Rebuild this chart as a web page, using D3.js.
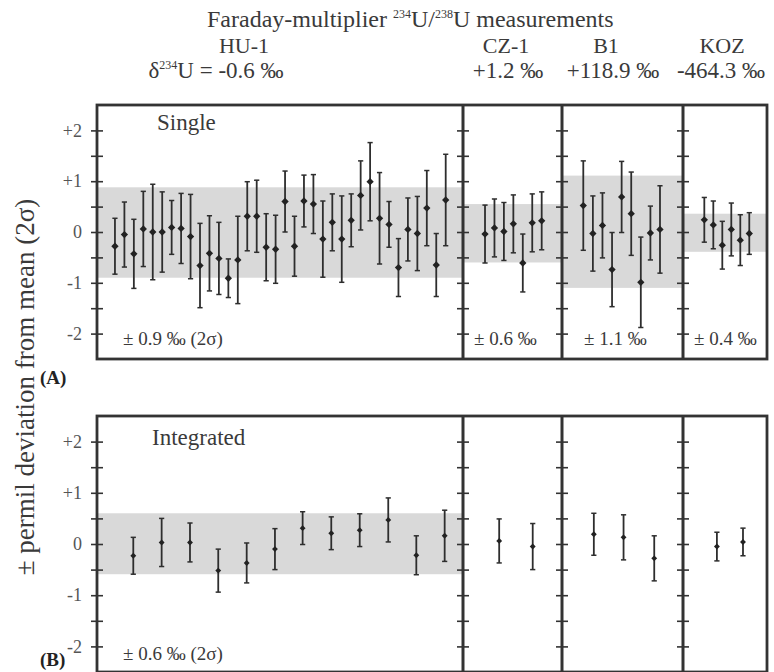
<!DOCTYPE html>
<html>
<head>
<meta charset="utf-8">
<script src="https://cdn.jsdelivr.net/npm/d3@7"></script>
<style>
  body { margin: 0; background: #fff; }
  text { font-family: "Liberation Serif", "Times New Roman", serif; fill: #3a3a3a; }
</style>
</head>
<body>
<div id="viz"></div>
<script>
// samples and their delta values
var samples = ["HU-1", "CZ-1", "B1", "KOZ"];
var deltas = ["-0.6 ‰", "+1.2 ‰", "+118.9 ‰", "-464.3 ‰"];

// (A) single measurements, deviation from mean and 2 sigma error
var singleHU1 = [-0.28,-0.05,-0.43,0.06,0,0,0.09,0.07,-0.09,-0.66,-0.42,-0.52,-0.91,-0.55,0.31,0.31,-0.3,-0.34,
                 0.6,-0.28,0.61,0.55,-0.14,0.19,-0.14,0.23,0.72,0.99,0.27,0.15,-0.7,0.05,-0.03,0.47,-0.65,0.63];
var singleHU1Err = [0.55,0.64,0.68,0.74,0.94,0.79,0.53,0.69,0.83,0.83,0.74,0.71,0.38,0.86,0.68,0.71,0.66,0.67,
                    0.6,0.59,0.51,0.58,0.75,0.56,0.85,0.52,0.68,0.77,0.9,0.45,0.57,0.62,0.73,0.74,0.62,0.9];
var singleCZ1 = [-0.04,0.08,0.01,0.16,-0.61,0.18,0.22];
var singleCZ1Err = [0.57,0.57,0.57,0.57,0.57,0.57,0.57];
var singleB1 = [0.52,-0.03,0.13,-0.74,0.69,0.36,-0.99,-0.02,0.05];
var singleB1Err = [0.88,0.74,0.64,0.73,0.7,0.82,0.89,0.53,0.86];
var singleKOZ = [0.24,0.14,-0.26,0.05,-0.16,-0.03];
var singleKOZErr = [0.44,0.47,0.47,0.52,0.5,0.41];

// (B) integrated measurements, position given in single-measurement index
var intHU1Pos = [1.94,4.94,7.94,10.93,13.94,16.93,19.86,22.89,25.9,28.92,31.89,34.89];
var intHU1 = [-0.23,0.03,0.03,-0.52,-0.37,-0.1,0.31,0.21,0.27,0.47,-0.22,0.16];
var intHU1Err = [0.36,0.47,0.38,0.42,0.39,0.4,0.32,0.32,0.32,0.43,0.38,0.5];
var intCZ1Pos = [1.5,5.05];
var intCZ1 = [0.06,-0.05];
var intCZ1Err = [0.43,0.45];
var intB1Pos = [1.1,4.2,7.4];
var intB1 = [0.19,0.13,-0.28];
var intB1Err = [0.41,0.44,0.44];
var intKOZPos = [1.4,4.3];
var intKOZ = [-0.05,0.04];
var intKOZErr = [0.28,0.27];

// reproducibility bands (lower, upper) and their labels
var singleBands = [[-0.9,0.88],[-0.6,0.55],[-1.1,1.11],[-0.39,0.36]];
var singleBandLabels = ["± 0.9 ‰ (2σ)", "± 0.6 ‰", "± 1.1 ‰", "± 0.4 ‰"];
var intBands = [[-0.59,0.6], null, null, null];
var intBandLabels = ["± 0.6 ‰ (2σ)", "", "", ""];

var yTicks = [-2,-1.5,-1,-0.5,0,0.5,1,1.5,2];

var width = 774, height = 672;

// panel layout: pixel extent and padding in index units
var layout = [
  {x0: 97, x1: 463, padL: 1.9, padR: 1.83, n: 36, nameX: 244, deltaX: 216, bandLabelX: 123},
  {x0: 463, x1: 562, padL: 2.33, padR: 2.15, n: 7, nameX: 506, deltaX: 508, bandLabelX: 474},
  {x0: 562, x1: 683, padL: 2.22, padR: 2.4, n: 9, nameX: 606, deltaX: 613, bandLabelX: 584},
  {x0: 683, x1: 767, padL: 2.37, padR: 1.97, n: 6, nameX: 722, deltaX: 721, bandLabelX: 694}
];

var singles = [
  [singleHU1, singleHU1Err], [singleCZ1, singleCZ1Err], [singleB1, singleB1Err], [singleKOZ, singleKOZErr]
];
var integrated = [
  [intHU1Pos, intHU1, intHU1Err], [intCZ1Pos, intCZ1, intCZ1Err], [intB1Pos, intB1, intB1Err], [intKOZPos, intKOZ, intKOZErr]
];

var svg = d3.select("#viz").append("svg")
  .attr("width", width).attr("height", height);

var xScales = layout.map(p => d3.scaleLinear()
  .domain([-p.padL, p.n - 1 + p.padR]).range([p.x0, p.x1]));

var yA = d3.scaleLinear().domain([-2.5, 2.5]).range([359, 105]);
var yB = d3.scaleLinear().domain([-2.5, 2.5]).range([672, 416]);

// title
var title = svg.append("text").attr("x", 207).attr("y", 27).style("font-size", "24px");
title.append("tspan").text("Faraday-multiplier ");
title.append("tspan").attr("dy", -9).style("font-size", "12px").text("234");
title.append("tspan").attr("dy", 9).text("U/");
title.append("tspan").attr("dy", -9).style("font-size", "12px").text("238");
title.append("tspan").attr("dy", 9).text("U measurements");

// sample names and deltas
svg.selectAll(".name").data(samples).enter().append("text")
  .attr("class", "name")
  .attr("x", (d, i) => layout[i].nameX).attr("y", 53)
  .attr("text-anchor", "middle").style("font-size", "22px")
  .text(d => d);

svg.selectAll(".delta").data(deltas).enter().append("text")
  .attr("class", "delta")
  .attr("x", (d, i) => layout[i].deltaX).attr("y", 78)
  .attr("text-anchor", "middle").style("font-size", "23px")
  .each(function(d, i) {
    var t = d3.select(this);
    if (i === 0) {
      t.append("tspan").text("δ");
      t.append("tspan").attr("dy", -9).style("font-size", "12px").text("234");
      t.append("tspan").attr("dy", 9).text("U = " + d);
    } else {
      t.text(d);
    }
  });

// y label
svg.append("text")
  .attr("transform", "translate(34,387) rotate(-90)")
  .attr("text-anchor", "middle")
  .style("font-size", "27px")
  .text("± permil deviation from mean (2σ)");

function drawRow(y, points, bands, bandLabels, rowLabel, labelY, rowName, nameX, nameY, markR) {
  var g = svg.append("g");

  // bands
  layout.forEach((p, i) => {
    if (!bands[i]) return;
    g.append("rect")
      .attr("x", p.x0).attr("width", p.x1 - p.x0)
      .attr("y", y(bands[i][1])).attr("height", y(bands[i][0]) - y(bands[i][1]))
      .style("fill", "#d9d9d9");
  });

  // error bars and markers
  layout.forEach((p, i) => {
    var x = xScales[i];
    var data = points[i];
    var bar = g.selectAll(".pt" + i).data(data).enter().append("g");
    bar.append("line")
      .attr("x1", d => x(d.i)).attr("x2", d => x(d.i))
      .attr("y1", d => y(d.v + d.e)).attr("y2", d => y(d.v - d.e))
      .style("stroke", "#2e2e2e").style("stroke-width", 1.8);
    [1, -1].forEach(s => {
      bar.append("line")
        .attr("x1", d => x(d.i) - 2.6).attr("x2", d => x(d.i) + 2.6)
        .attr("y1", d => y(d.v + s * d.e)).attr("y2", d => y(d.v + s * d.e))
        .style("stroke", "#2e2e2e").style("stroke-width", 1.5);
    });
    bar.append("path")
      .attr("d", d3.symbol(d3.symbolDiamond2, markR))
      .attr("transform", d => `translate(${x(d.i)},${y(d.v)})`)
      .style("fill", "#222");
  });

  // axes: left one with labels, dividers with crossing ticks only
  var ax = d3.axisLeft(y).tickValues(yTicks).tickSize(6).tickPadding(9)
    .tickFormat(d => Number.isInteger(d) ? (d > 0 ? "+" + d : String(d)) : "");
  var left = g.append("g").attr("transform", `translate(${layout[0].x0},0)`).call(ax);
  left.select(".domain").remove();
  left.selectAll(".tick line").attr("x1", 6).attr("x2", -6).style("stroke", "#333").style("stroke-width", 1.6);
  left.selectAll(".tick text").style("font-size", "18px").style("font-family", "Liberation Serif").style("fill", "#555");

  layout.slice(1).forEach(p => {
    var a = g.append("g").attr("transform", `translate(${p.x0},0)`)
      .call(d3.axisLeft(y).tickValues(yTicks).tickSize(6).tickFormat(""));
    a.select(".domain").remove();
    a.selectAll(".tick line").attr("x1", 6).attr("x2", -6).style("stroke", "#333").style("stroke-width", 1.6);
  });

  // frame and dividers
  var top = y.range()[1], bottom = y.range()[0];
  g.append("rect")
    .attr("x", layout[0].x0).attr("y", top)
    .attr("width", layout[3].x1 - layout[0].x0).attr("height", bottom - top)
    .style("fill", "none").style("stroke", "#333").style("stroke-width", 2.8);
  layout.slice(1).forEach(p => {
    g.append("line").attr("x1", p.x0).attr("x2", p.x0).attr("y1", top).attr("y2", bottom)
      .style("stroke", "#333").style("stroke-width", 3);
  });

  // band labels
  layout.forEach((p, i) => {
    if (!bandLabels[i]) return;
    g.append("text").attr("x", p.bandLabelX).attr("y", labelY)
      .style("font-size", "19px").text(bandLabels[i]);
  });

  g.append("text").attr("x", nameX).attr("y", nameY).style("font-size", "23px").text(rowName);
  g.append("text").attr("x", 40).attr("y", rowLabel[1])
    .style("font-size", "19px").style("font-weight", "bold").style("fill", "#222").text(rowLabel[0]);
}

var singlePts = singles.map(s => s[0].map((v, i) => ({i: i, v: v, e: s[1][i]})));
var intPts = integrated.map(s => s[1].map((v, k) => ({i: s[0][k], v: v, e: s[2][k]})));

drawRow(yA, singlePts, singleBands, singleBandLabels, ["(A)", 384], 345, "Single", 157, 130, 34);
drawRow(yB, intPts, intBands, intBandLabels, ["(B)", 666], 660, "Integrated", 152, 445, 22);
</script>
</body>
</html>
